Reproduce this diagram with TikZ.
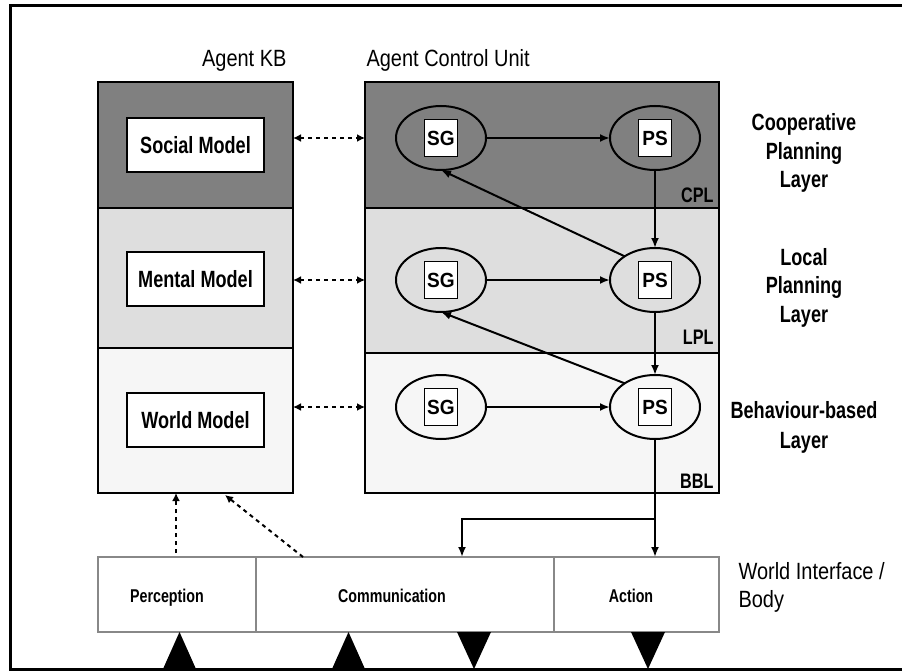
\documentclass[tikz,border=0pt]{standalone}
\usepackage{fontspec}
\setmainfont{Liberation Sans}
\newfontfamily\regf[FakeStretch=0.85]{Liberation Sans}
\newfontfamily\boldf[FakeStretch=0.77]{Liberation Sans}
\newfontfamily\boldg[FakeStretch=0.93]{Liberation Sans}
\usetikzlibrary{arrows.meta,shapes.geometric,calc}
\definecolor{cpl}{HTML}{808080}
\definecolor{lpl}{HTML}{DEDEDE}
\definecolor{bbl}{HTML}{F6F6F6}
\definecolor{wgray}{HTML}{888888}
\tikzset{
  layer/.style={draw=black, line width=2pt, inner sep=0pt, outer sep=0pt},
  modelbox/.style={draw=black, line width=2.2pt, fill=white, inner sep=0pt, outer sep=0pt,
     minimum width=137pt, minimum height=54pt, font=\boldf\bfseries\fontsize{23.5}{26}\selectfont},
  proc/.style={ellipse, draw=black, line width=2pt, inner sep=0pt, outer sep=0pt,
     minimum width=90pt, minimum height=64pt},
  sq/.style={draw=black, line width=1.8pt, fill=white, inner sep=0pt,
     minimum width=33pt, minimum height=37pt, font=\boldg\bfseries\fontsize{20.5}{22}\selectfont},
  wib/.style={draw=wgray, line width=1.6pt, fill=white, inner sep=0pt, outer sep=0pt, minimum height=75pt},
  wlab/.style={anchor=base, font=\boldf\bfseries\fontsize{18.5}{20}\selectfont},
  arr/.style={line width=2pt, -{Latex[length=10pt,width=8pt]}},
  darr/.style={line width=2pt, dash pattern=on 4pt off 4pt, -{Latex[length=8pt,width=8pt]}},
  ddarr/.style={line width=2pt, dash pattern=on 4pt off 4pt, {Latex[length=8pt,width=8pt]}-{Latex[length=8pt,width=8pt]}},
  title/.style={font=\regf\fontsize{23.5}{28}\selectfont},
  lname/.style={anchor=base, align=center, font=\boldf\bfseries\fontsize{23.5}{28.5}\selectfont},
  ltag/.style={anchor=base east, font=\boldf\bfseries\fontsize{21}{22}\selectfont},
}
\begin{document}
\begin{tikzpicture}[x=1pt,y=-1pt]
\useasboundingbox (0,0) rectangle (902,671);
\fill[white] (0,0) rectangle (902,671);
% frame
\draw[line width=3pt] (910,6) -- (10.5,6) -- (10.5,669) -- (910,669);
% titles
\node[title, anchor=base east] (tkb) at (290,67) {Agent KB};
\node[title, anchor=base west] (tacu) at (363,67) {Agent Control Unit};
% Agent KB layers
\node[layer, fill=cpl, minimum width=195pt, minimum height=126pt] (kbC) at (195.5,145) {};
\node[layer, fill=lpl, minimum width=195pt, minimum height=140pt] (kbL) at (195.5,278) {};
\node[layer, fill=bbl, minimum width=195pt, minimum height=145pt] (kbB) at (195.5,420.5) {};
% ACU layers
\node[layer, fill=cpl, minimum width=354pt, minimum height=126pt] (acuC) at (542,145) {};
\node[layer, fill=lpl, minimum width=354pt, minimum height=145pt] (acuL) at (542,280.5) {};
\node[layer, fill=bbl, minimum width=354pt, minimum height=140pt] (acuB) at (542,423) {};
% models
\node[modelbox] (social) at (195.5,145) {Social Model};
\node[modelbox] (mental) at (195.5,279) {Mental Model};
\node[modelbox] (world) at (195.5,420) {World Model};
% processes
\node[proc] (sgC) at (441,138) {};
\node[proc] (psC) at (655,138) {};
\node[proc] (sgL) at (441,280) {};
\node[proc] (psL) at (655,280) {};
\node[proc] (sgB) at (441,407) {};
\node[proc] (psB) at (655,407) {};
\node[sq] (sgCt) at (sgC) {SG};
\node[sq] (psCt) at (psC) {PS};
\node[sq] (sgLt) at (sgL) {SG};
\node[sq] (psLt) at (psL) {PS};
\node[sq] (sgBt) at (sgB) {SG};
\node[sq] (psBt) at (psB) {PS};
% layer tags
\node[ltag] (tCPL) at (717,203) {CPL};
\node[ltag] (tLPL) at (717,344) {LPL};
\node[ltag] (tBBL) at (717,488) {BBL};
% layer names (base = last line)
\node[lname] (nC) at (804,188) {Cooperative\\Planning\\Layer};
\node[lname] (nL) at (804,322) {Local\\Planning\\Layer};
\node[lname, font=\boldf\bfseries\fontsize{23.5}{30}\selectfont] (nB) at (804,448) {Behaviour-based\\Layer};
% arrows in ACU
\draw[arr] (sgC) -- (psC);
\draw[arr] (sgL) -- (psL);
\draw[arr] (sgB) -- (psB);
\draw[arr] (psC) -- (psL);
\draw[arr] (psL) -- (psB);
\draw[arr] (psL.142) -- (sgC.south);
\draw[arr] (psB.142) -- (sgL.south);
% KB <-> ACU
\draw[ddarr] (kbC.east |- sgC.center) -- (acuC.west |- sgC.center);
\draw[ddarr] (kbL.east |- sgL.center) -- (acuL.west |- sgL.center);
\draw[ddarr] (kbB.east |- sgB.center) -- (acuB.west |- sgB.center);
% world interface
\node[wib, minimum width=158pt] (perc) at (177,594.5) {};
\node[wib, minimum width=298pt] (comm) at (405,594.5) {};
\node[wib, minimum width=165pt] (act) at (636.5,594.5) {};
\node[wlab] (percT) at (167,602) {Perception};
\node[wlab] (commT) at (392,602) {Communication};
\node[wlab] (actT) at (631,602) {Action};
\node[title, anchor=base west, align=left] (wi) at (735,607) {World Interface /\\Body};
% ACU -> body
\coordinate (br) at (655,519);
\coordinate (commIn) at (462,557);
\draw[arr] (psB) -- (psB |- act.north);
\draw[arr] (br) -| (commIn);
% perception / communication -> KB
\coordinate (p1) at (176,553);
\coordinate (c1) at (303,557);
\coordinate (k2) at (225,495);
\draw[darr] (p1) -- (p1 |- kbB.south);
\draw[darr] (c1) -- (k2);
% triangles
\fill[black] (163,669) -- (179.5,632) -- (196,669) -- cycle;
\fill[black] (332,669) -- (348.5,632) -- (365,669) -- cycle;
\fill[black] (457,632) -- (491,632) -- (474,669) -- cycle;
\fill[black] (631,632) -- (665,632) -- (648,669) -- cycle;
\end{tikzpicture}
\end{document}
